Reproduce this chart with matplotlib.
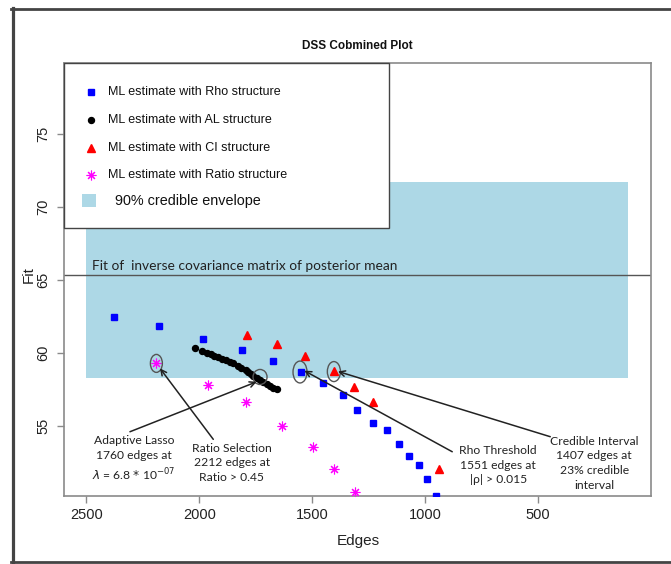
import matplotlib
matplotlib.use("Agg")
import matplotlib.pyplot as plt
from matplotlib.patches import Rectangle, Ellipse
from matplotlib.lines import Line2D

# ---------------- data ----------------
rho_edges = [2378, 2180, 1985, 1812, 1672, 1551, 1452, 1362, 1302, 1232, 1170, 1116, 1070, 1027, 993, 952]
rho_fit = [62.45, 61.85, 60.96, 60.21, 59.47, 58.68, 57.95, 57.12, 56.10, 55.23, 54.73, 53.75, 52.93, 52.31, 51.39, 50.23]

al_edges = [2019, 1987, 1967, 1950, 1934, 1916, 1898, 1883, 1864, 1849, 1827, 1815, 1793, 1783,
            1771, 1761, 1746, 1731, 1717, 1701, 1687, 1672, 1657]
al_fit = [60.36, 60.16, 60.02, 59.93, 59.82, 59.75, 59.61, 59.50, 59.36, 59.29, 59.09, 58.97, 58.82, 58.70,
          58.56, 58.45, 58.27, 58.15, 58.01, 57.88, 57.74, 57.60, 57.51]

ci_edges = [1787, 1655, 1531, 1405, 1314, 1232, 938]
ci_fit = [61.22, 60.62, 59.79, 58.77, 57.64, 56.66, 52.03]

ratio_edges = [2190, 1960, 1792, 1635, 1496, 1402, 1312]
ratio_fit = [59.29, 57.83, 56.66, 55.00, 53.54, 52.05, 50.50]

envelope_edges = [2500, 100]
envelope_fit = [58.29, 71.73]
posterior_mean_fit = 65.34

x_ticks = [2500, 2000, 1500, 1000, 500]
y_ticks = [55, 60, 65, 70, 75]

legend_labels = ["ML estimate with Rho structure", "ML estimate with AL structure",
                 "ML estimate with CI structure", "ML estimate with Ratio structure",
                 "90% credible envelope"]

# annotations: (label, text centre, arrow tail, arrow head, ellipse centre, ellipse w, h)
annotations = [
    ("Adaptive Lasso\n1760 edges at\n$\\lambda$ = 6.8 $*$ 10$^{-07}$", (2289, 52.74), (2307, 54.61), (1746, 58.03), (1731, 58.36), 62, 1.03),
    ("Ratio Selection\n2212 edges at\nRatio > 0.45", (1857, 52.47), (1938, 54.09), (2174, 58.95), (2190, 59.29), 53, 1.23),
    ("Rho Threshold\n1551 edges at\n|ρ| > 0.015", (677, 52.33), (880, 53.24), (1535, 58.79), (1554, 58.70), 62, 1.50),
    ("Credible Interval\n1407 edges at\n23% credible\ninterval", (252, 52.45), (446, 54.27), (1386, 58.74), (1404, 58.73), 58, 1.37),
]

# ---------------- figure ----------------
W, H = 671, 564
fig = plt.figure(figsize=(W / 100, H / 100), dpi=100)
fig.patch.set_facecolor("white")
ax = fig.add_axes([64 / W, 1 - 496 / H, 587 / W, 433 / H])

ax.set_xlim(2599, 0)
ax.set_ylim(50.21, 79.86)

# envelope
ax.add_patch(Rectangle((envelope_edges[1], envelope_fit[0]),
                       envelope_edges[0] - envelope_edges[1],
                       envelope_fit[1] - envelope_fit[0],
                       facecolor="#ADD8E6", edgecolor="none", zorder=1))
ax.axhline(posterior_mean_fit, color="#555555", lw=1.0, zorder=2)
ax.text(2475, posterior_mean_fit + 0.22, "Fit of  inverse covariance matrix of posterior mean",
        fontsize=9.9, family="Lato", color="#222222", va="bottom", ha="left", zorder=3)

ax.plot(rho_edges, rho_fit, ls="none", marker="s", ms=5, color="#0000FF", zorder=4)
ax.plot(al_edges, al_fit, ls="none", marker="o", ms=4.3, color="black", zorder=4)
ax.plot(ci_edges, ci_fit, ls="none", marker="^", ms=6, color="#FF0000", zorder=4)
ax.plot(ratio_edges, ratio_fit, ls="none", marker=(8, 2, 0), ms=7, mew=0.8, color="#FF00FF", zorder=4)

for label, tpos, tail, head, ec, ew, eh in annotations:
    ax.add_patch(Ellipse(ec, ew, eh, facecolor="none", edgecolor="#555555", lw=1.0, zorder=5))
    ax.annotate("", xy=head, xytext=tail,
                arrowprops=dict(arrowstyle="->", color="#222222", lw=1.1,
                                shrinkA=0, shrinkB=0, mutation_scale=10), zorder=6)
    ax.text(tpos[0], tpos[1], label, ha="center", va="center", fontsize=8.7,
            family="Lato", color="#222222", linespacing=1.42, zorder=7)

# axes styling
for sp in ax.spines.values():
    sp.set_color("#8a8a8a")
    sp.set_linewidth(1.2)
ax.set_xticks(x_ticks)
ax.set_yticks(y_ticks)
ax.set_xticklabels([str(v) for v in x_ticks])
ax.set_yticklabels([str(v) for v in y_ticks], rotation=90, va="center")
ax.tick_params(direction="out", length=5, width=1, color="#8a8a8a",
               labelsize=10.5, labelcolor="#222222")
ax.tick_params(axis="x", pad=3.5)
ax.tick_params(axis="y", pad=5)
for lab in ax.get_xticklabels() + ax.get_yticklabels():
    lab.set_family("Liberation Sans")

# title and axis labels (figure pixel positions)
fig.text(357 / W, 1 - 46 / H, "DSS Cobmined Plot", ha="center", va="center",
         fontsize=8.5, fontweight="bold", family="Liberation Sans", color="#111111")
fig.text(358 / W, 1 - 541 / H, "Edges", ha="center", va="center",
         fontsize=11, family="Liberation Sans", color="#222222")
fig.text(29 / W, 1 - 275 / H, "Fit", ha="center", va="center", rotation=90,
         fontsize=11, family="Liberation Sans", color="#222222")

# manual legend (axes fraction)
def pa(px, py):
    return ((px - 64) / 587, (496 - py) / 433)

x0, y0 = pa(64, 228)
x1, y1 = pa(389, 63)
ax.add_patch(Rectangle((x0, y0), x1 - x0, y1 - y0, transform=ax.transAxes,
                       facecolor="white", edgecolor="#444444", lw=1.0, zorder=10, clip_on=False))
styles = [dict(marker="s", ms=4.5, color="#0000FF"),
          dict(marker="o", ms=4.3, color="black"),
          dict(marker="^", ms=5.5, color="#FF0000"),
          dict(marker=(8, 2, 0), ms=7, mew=0.8, color="#FF00FF")]
rows = [92.3, 120, 147.7, 175]
for st, yy, lab in zip(styles, rows, legend_labels[:4]):
    mx, my = pa(90.5, yy)
    ax.plot([mx], [my], ls="none", transform=ax.transAxes, clip_on=False, zorder=11, **st)
    tx, ty = pa(107.5, yy)
    ax.text(tx, ty, lab, transform=ax.transAxes, ha="left", va="center", fontsize=9.0,
            family="Liberation Sans", color="#111111", zorder=11)
px0, py0 = pa(82, 207)
px1, py1 = pa(96, 194)
ax.add_patch(Rectangle((px0, py0), px1 - px0, py1 - py0, transform=ax.transAxes,
                       facecolor="#ADD8E6", edgecolor="none", zorder=11, clip_on=False))
tx, ty = pa(115, 200.5)
ax.text(tx, ty, legend_labels[4], transform=ax.transAxes, ha="left", va="center", fontsize=10.4,
        family="Liberation Sans", color="#111111", zorder=11)

# screenshot frame
fig.add_artist(Line2D([13 / W, 13 / W], [1 - 8 / H, 1 - 563 / H], transform=fig.transFigure,
                      color="#444444", lw=2.3))
fig.add_artist(Line2D([11 / W, 1.0], [1 - 9 / H, 1 - 9 / H], transform=fig.transFigure,
                      color="#444444", lw=2.0))
fig.add_artist(Line2D([11 / W, 1.0], [1 - 562 / H, 1 - 562 / H], transform=fig.transFigure,
                      color="#444444", lw=2.0))

fig.savefig("out.png", dpi=100)
